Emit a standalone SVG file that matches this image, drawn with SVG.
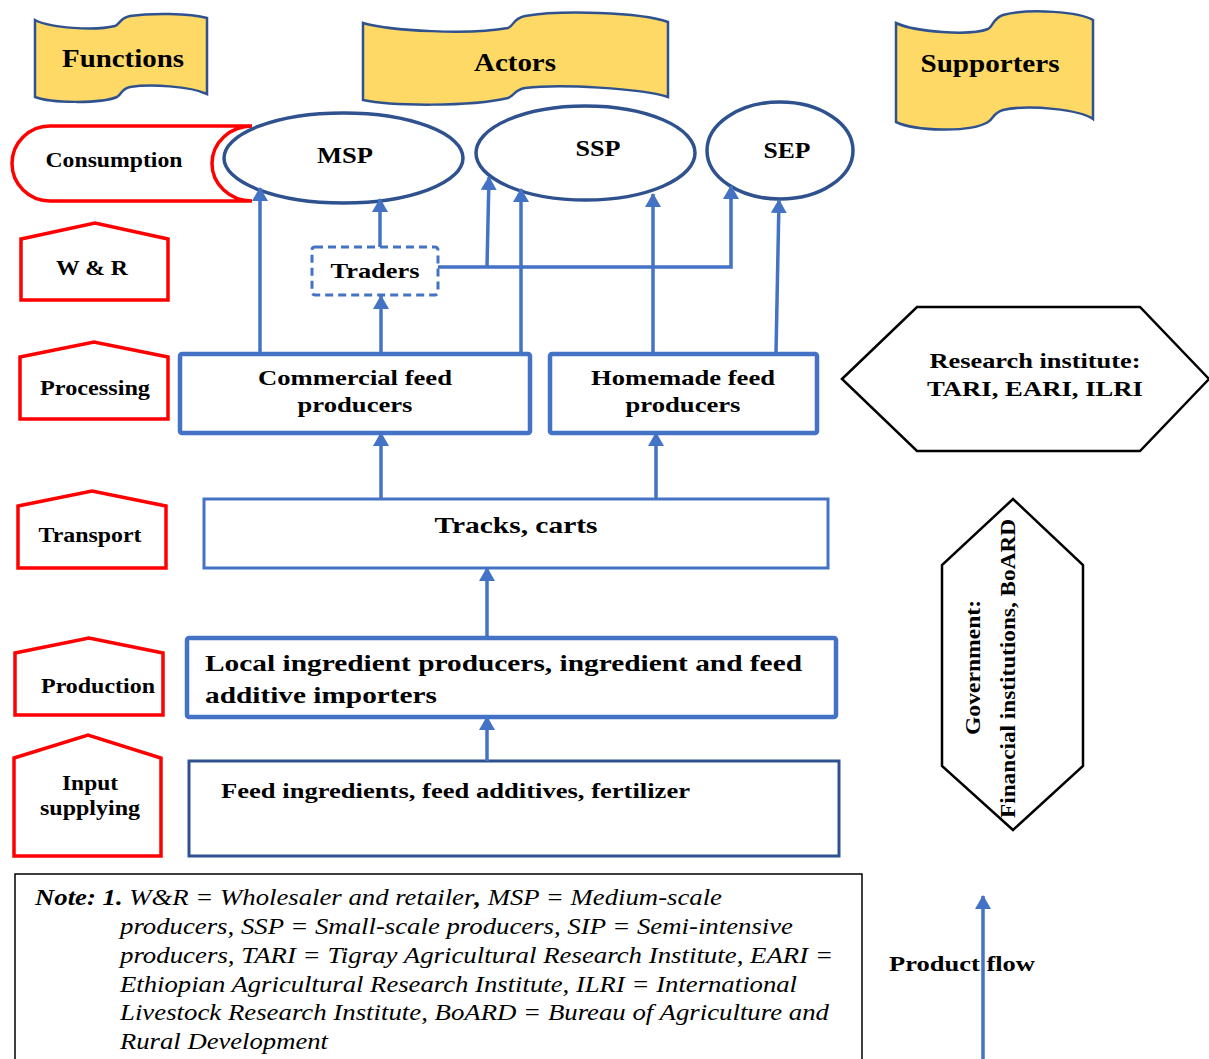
<svg xmlns="http://www.w3.org/2000/svg" width="1209" height="1059" viewBox="0 0 1209 1059">
<style>
text{font-family:"Liberation Serif","Times New Roman",serif;font-weight:bold;fill:#000}
.c{text-anchor:middle}
.banner{fill:#FFD966;stroke:#2F528F;stroke-width:2.5}
.func{fill:#fff;stroke:#FF0000;stroke-width:3.5}
.ell{fill:#fff;stroke:#2F528F;stroke-width:3.5}
.box{fill:#fff;stroke:#4472C4}
.hex{fill:#fff;stroke:#000;stroke-width:2.5}
.con{fill:none;stroke:#4472C4;stroke-width:3.5}
.note{font-weight:normal;font-style:italic;font-size:23px}
</style>
<defs>
<marker id="ah" viewBox="0 0 14 16" refX="13" refY="8" markerWidth="14" markerHeight="16" markerUnits="userSpaceOnUse" orient="auto">
<path d="M0,0 L14,8 L0,16 Z" fill="#4472C4"/>
</marker>
</defs>
<rect width="1209" height="1059" fill="#fff"/>

<g id="functions-banner">
<path class="banner" d="M35,20 C50,28 95,31 115,26 C120,24 120,18 130,16 C150,13 190,13 207,18 L207,94 C190,86 150,84 130,87 C121,89 122,94 117,97 C100,104 50,103 35,97 Z"/>
<text class="c" x="123" y="67" font-size="26" textLength="122" lengthAdjust="spacingAndGlyphs">Functions</text>
</g>
<g id="actors-banner">
<path class="banner" d="M363,23 C390,31 470,35 508,28 C514,26 512,19 525,16 C560,10 640,12 668,22 L668,97 C640,88 560,84 525,88 C514,90 515,95 508,98 C470,107 390,106 363,100 Z"/>
<text class="c" x="515" y="71" font-size="26" textLength="82" lengthAdjust="spacingAndGlyphs">Actors</text>
</g>
<g id="supporters-banner">
<path class="banner" d="M896,23 C915,32 970,36 988,29 C994,26 992,19 1003,15 C1030,8 1080,12 1093,20 L1093,119 C1080,110 1030,104 1003,110 C993,113 994,118 988,122 C970,133 915,131 896,122 Z"/>
<text class="c" x="990" y="72" font-size="26" textLength="139" lengthAdjust="spacingAndGlyphs">Supporters</text>
</g>

<g id="consumption">
<path class="func" d="M252,126 L50,126 A38,37.5 0 0 0 50,201 L252,201 A40,37.5 0 0 1 252,126 Z"/>
<text class="c" x="114" y="167" font-size="20" textLength="137" lengthAdjust="spacingAndGlyphs">Consumption</text>
</g>
<g id="wr">
<path class="func" d="M21,239 L95,223 L168,239 L168,300 L21,300 Z"/>
<text class="c" x="92" y="275" font-size="20" textLength="72" lengthAdjust="spacingAndGlyphs">W &amp; R</text>
</g>
<g id="processing">
<path class="func" d="M20,357 L94,342 L168,357 L168,419 L20,419 Z"/>
<text class="c" x="95" y="395" font-size="20" textLength="110" lengthAdjust="spacingAndGlyphs">Processing</text>
</g>
<g id="transport">
<path class="func" d="M18,506 L92,491 L166,506 L166,568 L18,568 Z"/>
<text class="c" x="90" y="542" font-size="20" textLength="103" lengthAdjust="spacingAndGlyphs">Transport</text>
</g>
<g id="production">
<path class="func" d="M15,653 L89,638 L163,653 L163,715 L15,715 Z"/>
<text class="c" x="98" y="693" font-size="20" textLength="114" lengthAdjust="spacingAndGlyphs">Production</text>
</g>
<g id="input-supplying">
<path class="func" d="M14,758 L88,735 L161,758 L161,856 L14,856 Z"/>
<text class="c" x="90" y="790" font-size="20" textLength="56" lengthAdjust="spacingAndGlyphs">Input</text>
<text class="c" x="90" y="815" font-size="20" textLength="100" lengthAdjust="spacingAndGlyphs">supplying</text>
</g>

<g id="msp">
<ellipse class="ell" cx="343.5" cy="158" rx="119.5" ry="45"/>
<text class="c" x="345" y="163" font-size="24" textLength="56" lengthAdjust="spacingAndGlyphs">MSP</text>
</g>
<g id="ssp">
<ellipse class="ell" cx="585.5" cy="153" rx="109.5" ry="47"/>
<text class="c" x="598" y="156" font-size="24" textLength="45" lengthAdjust="spacingAndGlyphs">SSP</text>
</g>
<g id="sep">
<ellipse class="ell" cx="780" cy="150.5" rx="73" ry="48.5"/>
<text class="c" x="787" y="158" font-size="24" textLength="47" lengthAdjust="spacingAndGlyphs">SEP</text>
</g>

<g id="traders">
<rect class="box" x="312" y="247" width="126" height="48" rx="3" stroke-width="3" stroke-dasharray="8,5"/>
<text class="c" x="375" y="278" font-size="21" textLength="89" lengthAdjust="spacingAndGlyphs">Traders</text>
</g>
<g id="commercial">
<rect class="box" x="180" y="354" width="350" height="79" rx="2" stroke-width="4.5"/>
<text class="c" x="355" y="385" font-size="21" textLength="194" lengthAdjust="spacingAndGlyphs">Commercial feed</text>
<text class="c" x="355" y="412" font-size="21" textLength="115" lengthAdjust="spacingAndGlyphs">producers</text>
</g>
<g id="homemade">
<rect class="box" x="550" y="354" width="267" height="79" rx="2" stroke-width="4.5"/>
<text class="c" x="683" y="385" font-size="21" textLength="184" lengthAdjust="spacingAndGlyphs">Homemade feed</text>
<text class="c" x="683" y="412" font-size="21" textLength="115" lengthAdjust="spacingAndGlyphs">producers</text>
</g>
<g id="tracks">
<rect class="box" x="204" y="499" width="624" height="69" stroke-width="3"/>
<text class="c" x="516" y="533" font-size="23" textLength="163" lengthAdjust="spacingAndGlyphs">Tracks, carts</text>
</g>
<g id="local-ingredient">
<rect class="box" x="187" y="638" width="649" height="79" rx="2" stroke-width="4.5"/>
<text x="205" y="671" font-size="23" textLength="597" lengthAdjust="spacingAndGlyphs">Local ingredient producers, ingredient and feed</text>
<text x="205" y="703" font-size="23" textLength="232" lengthAdjust="spacingAndGlyphs">additive importers</text>
</g>
<g id="feed-ingredients">
<rect x="189" y="761" width="650" height="95" fill="#fff" stroke="#2F528F" stroke-width="3"/>
<text x="221" y="798" font-size="21" textLength="469" lengthAdjust="spacingAndGlyphs">Feed ingredients, feed additives, fertilizer</text>
</g>

<g id="research-institute">
<path class="hex" d="M842,379 L917,307 L1140,307 L1209,379 L1140,451 L917,451 Z"/>
<text class="c" x="1035" y="368" font-size="21" textLength="211" lengthAdjust="spacingAndGlyphs">Research institute:</text>
<text class="c" x="1035" y="396" font-size="21" textLength="216" lengthAdjust="spacingAndGlyphs">TARI, EARI, ILRI</text>
</g>
<g id="government">
<path class="hex" d="M1013,499 L1083,565 L1083,766 L1013,830 L942,766 L942,565 Z"/>
<text class="c" transform="translate(980,667.5) rotate(-90)" font-size="22" textLength="135" lengthAdjust="spacingAndGlyphs">Government:</text>
<text class="c" transform="translate(1015,668.5) rotate(-90)" font-size="22" textLength="299" lengthAdjust="spacingAndGlyphs">Financial institutions, BoARD</text>
</g>

<g id="note">
<rect x="15" y="874" width="847" height="200" fill="#fff" stroke="#000" stroke-width="1.5"/>
<text class="note" x="35" y="905" textLength="687" lengthAdjust="spacingAndGlyphs"><tspan font-weight="bold">Note: 1.</tspan> W&amp;R = Wholesaler and retailer<tspan font-weight="bold">,</tspan> MSP = Medium-scale</text>
<text class="note" x="120" y="934" textLength="673" lengthAdjust="spacingAndGlyphs">producers, SSP = Small-scale producers, SIP = Semi-intensive</text>
<text class="note" x="120" y="963" textLength="713" lengthAdjust="spacingAndGlyphs">producers, TARI = Tigray Agricultural Research Institute, EARI =</text>
<text class="note" x="120" y="992" textLength="677" lengthAdjust="spacingAndGlyphs">Ethiopian Agricultural Research Institute, ILRI = International</text>
<text class="note" x="120" y="1020" textLength="709" lengthAdjust="spacingAndGlyphs">Livestock Research Institute, BoARD = Bureau of Agriculture and</text>
<text class="note" x="120" y="1049" textLength="208" lengthAdjust="spacingAndGlyphs">Rural Development</text>
</g>

<g id="legend">
<text x="889" y="971" font-size="21" textLength="146" lengthAdjust="spacingAndGlyphs">Product flow</text>
</g>

<g id="connectors">
<path class="con" d="M260,353 V188" marker-end="url(#ah)"/>
<path class="con" d="M380,247 V199" marker-end="url(#ah)"/>
<path class="con" d="M381,353 V296" marker-end="url(#ah)"/>
<path class="con" d="M438,267 H731 V186"/>
<path class="con" d="M731,200 V186" marker-end="url(#ah)"/>
<path class="con" d="M487,267 L489,177" marker-end="url(#ah)"/>
<path class="con" d="M521,353 V189" marker-end="url(#ah)"/>
<path class="con" d="M653,353 V194" marker-end="url(#ah)"/>
<path class="con" d="M776,353 L779,200" marker-end="url(#ah)"/>
<path class="con" d="M381,499 V433" marker-end="url(#ah)"/>
<path class="con" d="M656,499 V433" marker-end="url(#ah)"/>
<path class="con" d="M487,638 V568" marker-end="url(#ah)"/>
<path class="con" d="M487,761 V717" marker-end="url(#ah)"/>
<path class="con" d="M983,1059 V896" marker-end="url(#ah)"/>
</g>
</svg>
